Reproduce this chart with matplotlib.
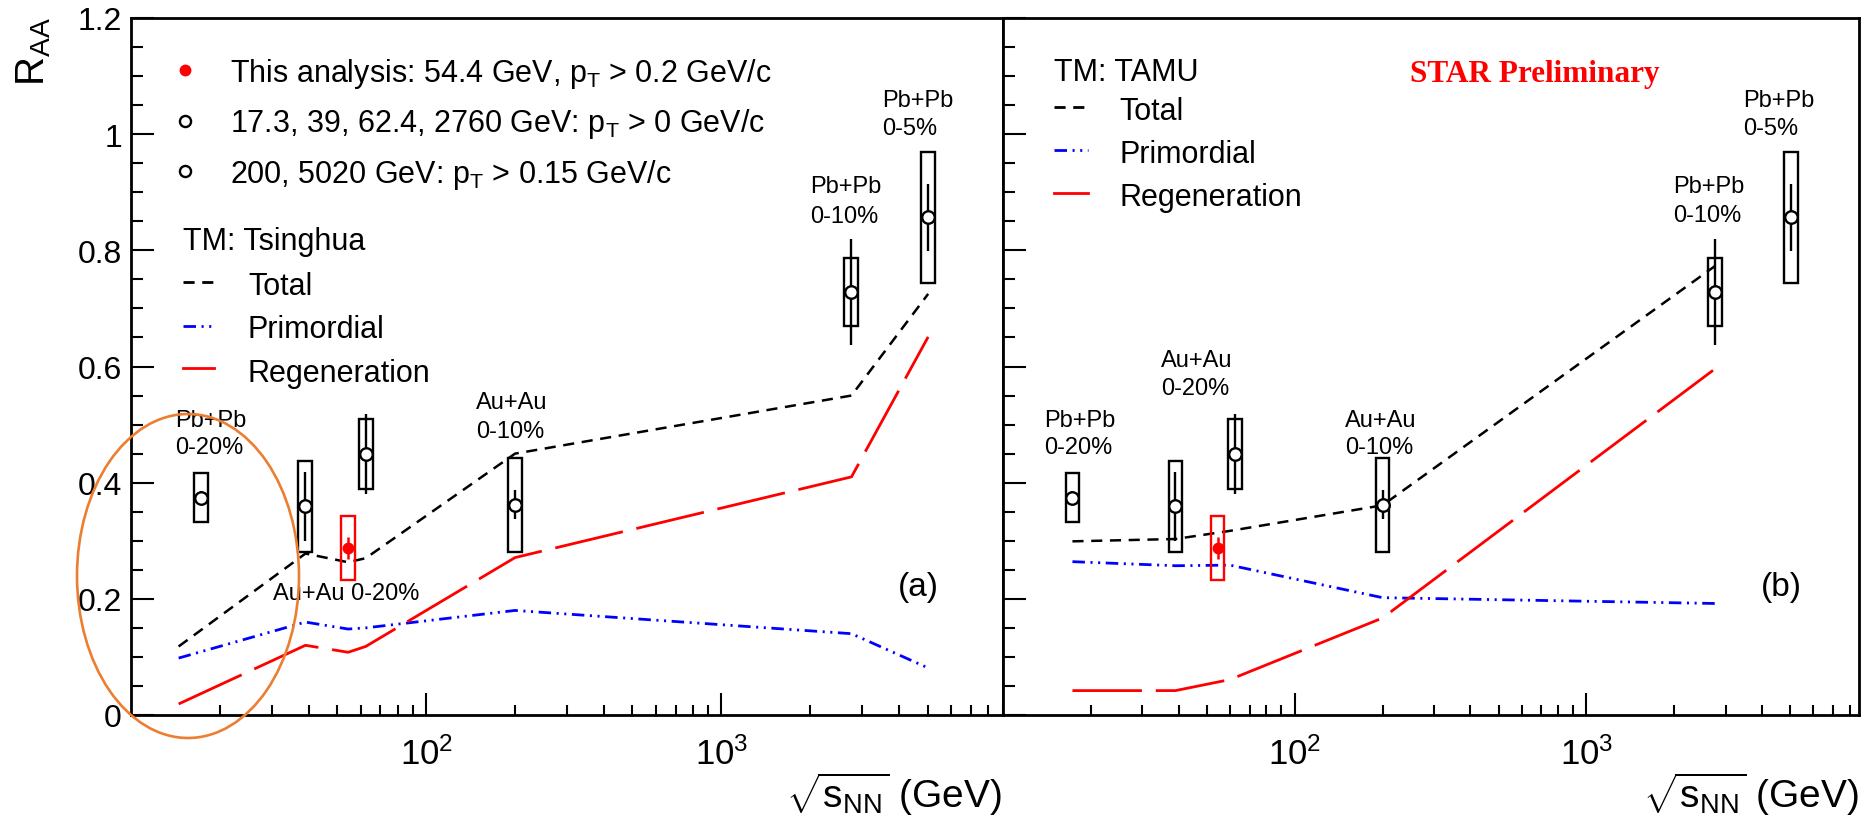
import numpy as np
import matplotlib
matplotlib.use("Agg")
import matplotlib.pyplot as plt
from matplotlib.patches import Rectangle, Ellipse
from matplotlib.lines import Line2D
from matplotlib.ticker import FixedLocator, LogLocator, NullFormatter, FuncFormatter

# ---------------- data ----------------
energy = [17.3, 39.0, 62.4, 200.0, 2760.0, 5020.0]
raa = [0.374, 0.359, 0.449, 0.362, 0.728, 0.857]
raa_stat = [0.012, 0.060, 0.069, 0.025, 0.091, 0.058]
raa_sys = [0.042, 0.079, 0.060, 0.081, 0.059, 0.113]

this_energy = [54.4]
this_raa = [0.288]
this_stat = [0.019]
this_sys = [0.055]

tsinghua_x = [14.5, 39.0, 54.4, 62.4, 200.0, 2760.0, 5020.0]
tsinghua_total = [0.118, 0.278, 0.263, 0.270, 0.450, 0.550, 0.725]
tsinghua_prim = [0.098, 0.160, 0.148, 0.150, 0.180, 0.140, 0.081]
tsinghua_regen = [0.019, 0.120, 0.108, 0.118, 0.271, 0.410, 0.651]

tamu_x = [17.3, 39.0, 60.0, 200.0, 2760.0]
tamu_total = [0.299, 0.303, 0.317, 0.361, 0.773]
tamu_prim = [0.264, 0.257, 0.258, 0.202, 0.192]
tamu_regen = [0.042, 0.042, 0.061, 0.167, 0.596]

yticks = [0, 0.2, 0.4, 0.6, 0.8, 1.0, 1.2]

# ---------------- style ----------------
plt.rcParams["font.family"] = ["Liberation Sans", "DejaVu Sans"]
plt.rcParams["mathtext.fontset"] = "custom"
plt.rcParams["mathtext.rm"] = "Liberation Sans"
plt.rcParams["mathtext.it"] = "Liberation Sans:italic"
plt.rcParams["mathtext.bf"] = "Liberation Sans:bold"
plt.rcParams["lines.scale_dashes"] = False

W, H = 1866, 820
fig = plt.figure(figsize=(W / 100, H / 100), dpi=100)


def fx(px):
    return px / W


def fy(py):
    return 1 - py / H


y0, y1 = 716, 19
axL = fig.add_axes([fx(131), fy(y0), (1003 - 131) / W, (y0 - y1) / H])
axR = fig.add_axes([fx(1003), fy(y0), (1859 - 1003) / W, (y0 - y1) / H])

TOTAL_LS = (0, (8, 5.5))
PRIM_LS = (0, (9, 4, 1.5, 4, 1.5, 4))
REGEN_LS = (0, (50, 10))
LW = 1.8
BOX_HALF = 0.0237  # half box width in decades


def draw_points(ax):
    for e, v, st, sy in zip(energy, raa, raa_stat, raa_sys):
        ax.add_patch(Rectangle((e * 10 ** (-BOX_HALF), v - sy),
                               e * 10 ** BOX_HALF - e * 10 ** (-BOX_HALF), 2 * sy,
                               fill=False, edgecolor="black", lw=1.7, zorder=4))
    ax.errorbar(energy, raa, yerr=raa_stat, fmt="o", color="black", mfc="white",
                mec="black", ms=9, mew=1.7, elinewidth=1.7, capsize=0, zorder=6)
    for e, v, st, sy in zip(this_energy, this_raa, this_stat, this_sys):
        ax.add_patch(Rectangle((e * 10 ** (-BOX_HALF), v - sy),
                               e * 10 ** BOX_HALF - e * 10 ** (-BOX_HALF), 2 * sy,
                               fill=False, edgecolor="red", lw=1.7, zorder=4))
    ax.errorbar(this_energy, this_raa, yerr=this_stat, fmt="o", color="red",
                ms=7.5, elinewidth=1.8, capsize=0, zorder=6)


def style_axis(ax, xmax, labels):
    ax.set_xscale("log")
    ax.set_xlim(10, xmax)
    ax.set_ylim(0, 1.2)
    for s in ax.spines.values():
        s.set_linewidth(2.0)
    ax.xaxis.set_major_locator(FixedLocator([100, 1000]))
    ax.xaxis.set_minor_locator(LogLocator(base=10, subs=np.arange(2, 10), numticks=20))
    ax.xaxis.set_minor_formatter(NullFormatter())
    ax.xaxis.set_major_formatter(FuncFormatter(lambda v, p: r"$\mathregular{10^{%d}}$" % round(np.log10(v))))
    ax.yaxis.set_major_locator(FixedLocator(yticks))
    ax.yaxis.set_minor_locator(FixedLocator(np.arange(0, 1.2001, 0.05)))
    ax.yaxis.set_major_formatter(FuncFormatter(lambda v, p: "%g" % v))
    ax.tick_params(axis="both", which="both", direction="in", top=False, right=False)
    ax.tick_params(axis="x", which="major", length=16, width=1.5, labelsize=25, pad=15)
    ax.tick_params(axis="x", which="minor", length=7.5, width=1.5)
    ax.tick_params(axis="y", which="major", length=16.5, width=1.5, labelsize=23, pad=6.5,
                   labelleft=labels)
    ax.tick_params(axis="y", which="minor", length=8.5, width=1.5)


style_axis(axL, 9000, True)
style_axis(axR, 8600, False)

# models
axL.plot(tsinghua_x, tsinghua_total, color="black", lw=LW, ls=TOTAL_LS, zorder=3)
axL.plot(tsinghua_x, tsinghua_prim, color="blue", lw=LW + 0.2, ls=PRIM_LS, zorder=3)
axL.plot(tsinghua_x, tsinghua_regen, color="red", lw=LW + 0.2, ls=REGEN_LS, zorder=3)
axR.plot(tamu_x, tamu_total, color="black", lw=LW, ls=TOTAL_LS, zorder=3)
axR.plot(tamu_x, tamu_prim, color="blue", lw=LW + 0.2, ls=PRIM_LS, zorder=3)
axR.plot(tamu_x, tamu_regen, color="red", lw=LW + 0.2, ls=REGEN_LS, zorder=3)

draw_points(axL)
draw_points(axR)

# axis labels
fig.text(fx(34), fy(17), r"R$_{\mathregular{AA}}$", rotation=90, ha="center", va="top", fontsize=29)
for ax, xr in ((axL, 1002), (axR, 1859)):
    fig.text(fx(xr), fy(808), r"$\mathregular{\sqrt{s_{NN}}}$ (GeV)", ha="right", va="baseline",
             fontsize=28)

# legend (left)
LEG = 22
fig.add_artist(Line2D([fx(185)], [fy(71)], marker="o", color="red", ms=7.5, ls="none"))
fig.add_artist(Line2D([fx(185)], [fy(122)], marker="o", mfc="white", mec="black", mew=1.7, ms=8, ls="none"))
fig.add_artist(Line2D([fx(185)], [fy(172)], marker="o", mfc="white", mec="black", mew=1.7, ms=8, ls="none"))
fig.text(fx(230), fy(82), r"This analysis: 54.4 GeV, p$_{\mathregular{T}}$ > 0.2 GeV/c", fontsize=LEG, va="baseline")
fig.text(fx(230), fy(132), r"17.3, 39, 62.4, 2760 GeV: p$_{\mathregular{T}}$ > 0 GeV/c", fontsize=LEG, va="baseline")
fig.text(fx(230), fy(183), r"200, 5020 GeV: p$_{\mathregular{T}}$ > 0.15 GeV/c", fontsize=LEG, va="baseline")


def model_legend(x0, xk1, xk2, xt, yh, rows, title):
    fig.text(fx(x0), fy(yh), title, fontsize=LEG, va="baseline")
    for (lab, col, ls, yl, yb) in rows:
        fig.add_artist(Line2D([fx(xk1), fx(xk2)], [fy(yl), fy(yl)], color=col, ls=ls, lw=LW + 0.2))
        fig.text(fx(xt), fy(yb), lab, fontsize=LEG, va="baseline")


model_legend(183, 183, 214, 248, 250,
             [("Total", "black", TOTAL_LS, 283, 295),
              ("Primordial", "blue", PRIM_LS, 327, 338),
              ("Regeneration", "red", "-", 369, 382)], "TM: Tsinghua")
model_legend(1054, 1054, 1088, 1119, 81,
             [("Total", "black", TOTAL_LS, 108, 120),
              ("Primordial", "blue", PRIM_LS, 151, 163),
              ("Regeneration", "red", "-", 194, 206)], "TM: TAMU")

fig.text(fx(1410), fy(82), "STAR Preliminary", color="red", fontsize=22.5,
         family="Liberation Serif", weight="bold", va="baseline")

# annotations
ANN = 17
ann = [
    ("Pb+Pb", "0-20%", 175, 427, 454),
    ("Au+Au", "0-10%", 476, 409, 438),
    ("Pb+Pb", "0-10%", 810, 193, 223),
    ("Pb+Pb", "0-5%", 882, 107, 135),
    ("Pb+Pb", "0-20%", 1044, 427, 454),
    ("Au+Au", "0-20%", 1161, 367, 395),
    ("Au+Au", "0-10%", 1345, 427, 454),
    ("Pb+Pb", "0-10%", 1673, 193, 222),
    ("Pb+Pb", "0-5%", 1743, 107, 135),
]
for l1, l2, x, b1, b2 in ann:
    fig.text(fx(x), fy(b1), l1, fontsize=ANN, va="baseline")
    fig.text(fx(x), fy(b2), l2, fontsize=ANN, va="baseline")
fig.text(fx(273), fy(600), "Au+Au 0-20%", fontsize=ANN, va="baseline")
fig.text(fx(898), fy(588), "(a)", fontsize=24, va="center")
fig.text(fx(1761), fy(588), "(b)", fontsize=24, va="center")

# orange ellipse highlight
fig.add_artist(Ellipse((fx(188), fy(577)), 222 / W, 324 / H, fill=False,
                       edgecolor="#ED7D31", lw=1.9, zorder=10))

fig.savefig("out.png", dpi=100)
